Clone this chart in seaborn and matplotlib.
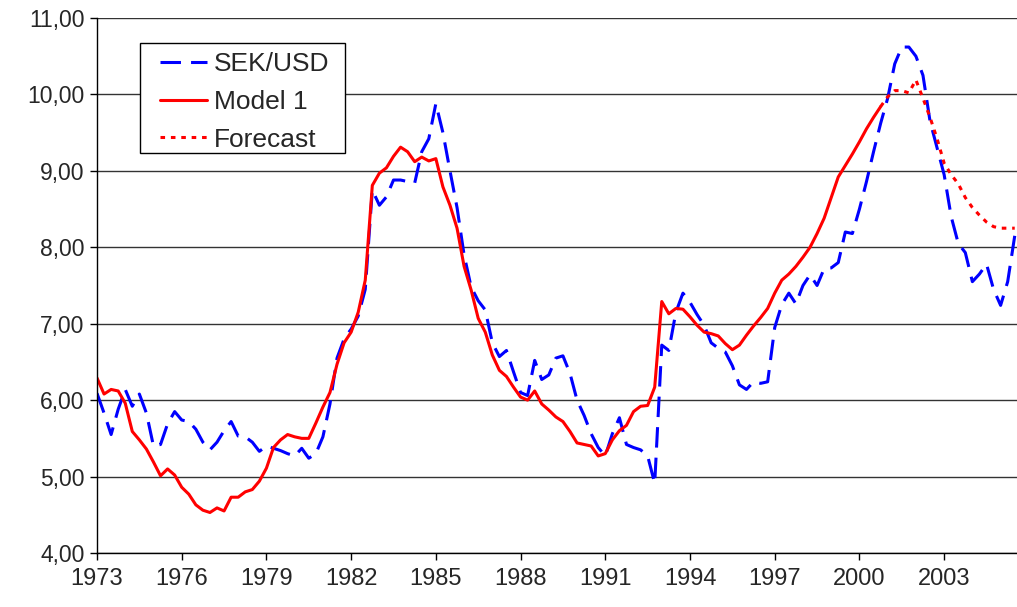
import numpy as np
import pandas as pd
import seaborn as sns
import matplotlib.pyplot as plt
from matplotlib.lines import Line2D
from matplotlib.patches import Rectangle
from matplotlib.ticker import FuncFormatter


# quarterly observations, 1973Q1 .. 2005Q3
quarters = 1973 + np.arange(131) / 4

sek_usd = [6.09, 5.83, 5.55, 5.88, 6.14, 5.92, 6.08, 5.83, 5.40, 5.42,
           5.69, 5.85, 5.74, 5.72, 5.62, 5.45, 5.35, 5.45, 5.60, 5.72,
           5.53, 5.52, 5.45, 5.33, 5.40, 5.37, 5.34, 5.30, 5.27, 5.37,
           5.24, 5.30, 5.52, 5.95, 6.55, 6.80, 6.93, 7.10, 7.45, 8.75,
           8.55, 8.66, 8.88, 8.88, 8.86, 8.84, 9.25, 9.42, 9.88, 9.50,
           9.00, 8.52, 7.90, 7.48, 7.30, 7.18, 6.75, 6.57, 6.65, 6.37,
           6.10, 6.06, 6.52, 6.27, 6.33, 6.55, 6.58, 6.35, 6.00, 5.80,
           5.56, 5.38, 5.27, 5.56, 5.77, 5.42, 5.38, 5.35, 5.27, 4.91,
           6.72, 6.65, 7.15, 7.40, 7.28, 7.12, 6.98, 6.75, 6.68, 6.63,
           6.45, 6.20, 6.14, 6.24, 6.22, 6.24, 6.95, 7.25, 7.40, 7.26,
           7.50, 7.64, 7.50, 7.72, 7.73, 7.80, 8.20, 8.18, 8.50, 8.86,
           9.25, 9.62, 9.95, 10.40, 10.62, 10.62, 10.50, 10.25, 9.65, 9.30,
           8.95, 8.40, 8.05, 7.93, 7.55, 7.65, 7.78, 7.45, 7.24, 7.55,
           8.15]

model_1 = [6.29, 6.08, 6.14, 6.12, 5.96, 5.59, 5.48, 5.36, 5.19, 5.01,
           5.10, 5.02, 4.86, 4.77, 4.63, 4.56, 4.53, 4.59, 4.55, 4.73,
           4.73, 4.80, 4.83, 4.94, 5.11, 5.38, 5.48, 5.55, 5.52, 5.50,
           5.50, 5.70, 5.91, 6.10, 6.47, 6.75, 6.89, 7.15, 7.57, 8.81,
           8.97, 9.04, 9.19, 9.31, 9.25, 9.12, 9.18, 9.13, 9.16, 8.79,
           8.55, 8.25, 7.75, 7.44, 7.07, 6.89, 6.59, 6.39, 6.31, 6.17,
           6.04, 6.00, 6.12, 5.95, 5.87, 5.78, 5.72, 5.59, 5.44, 5.42,
           5.40, 5.27, 5.30, 5.48, 5.60, 5.67, 5.85, 5.92, 5.93, 6.17,
           7.29, 7.13, 7.20, 7.19, 7.09, 6.98, 6.89, 6.87, 6.84, 6.74,
           6.66, 6.72, 6.85, 6.97, 7.08, 7.20, 7.40, 7.57, 7.65, 7.75,
           7.87, 8.00, 8.18, 8.38, 8.65, 8.92, 9.07, 9.22, 9.38, 9.55,
           9.70, 9.84]

# forecast starts at the last model quarter
forecast = [9.84, 9.97, 10.05, 10.05, 10.02, 10.19, 9.95, 9.70, 9.42, 9.10,
            8.95, 8.83, 8.65, 8.52, 8.42, 8.33, 8.27, 8.25, 8.25, 8.25]

year_ticks = list(range(1973, 2004, 3))
series_order = ['SEK/USD', 'Model 1', 'Forecast']
colors = {'SEK/USD': '#0000FF', 'Model 1': '#FF0000', 'Forecast': '#FF0000'}
dash_map = {'SEK/USD': (6.7, 3.3), 'Model 1': '', 'Forecast': (1.5, 1.9)}

n_model = len(model_1)
df = pd.concat([
    pd.DataFrame({'t': quarters, 'value': sek_usd, 'series': 'SEK/USD'}),
    pd.DataFrame({'t': quarters[:n_model], 'value': model_1, 'series': 'Model 1'}),
    pd.DataFrame({'t': quarters[n_model - 1:], 'value': forecast, 'series': 'Forecast'}),
], ignore_index=True)

sns.set_style('white')
plt.rcParams['font.family'] = ['Liberation Sans', 'DejaVu Sans']

fig = plt.figure(figsize=(10.17, 6.07), dpi=100)
ax = fig.add_axes([97 / 1017, 54 / 607, 920 / 1017, 535 / 607])

sns.lineplot(data=df, x='t', y='value', hue='series', style='series',
             hue_order=series_order, style_order=series_order,
             palette=colors, dashes=dash_map, linewidth=2.2,
             estimator=None, legend=False, ax=ax)

ax.set_xlim(1973, 2005.58)
ax.set_ylim(4, 11)
ax.set_xticks(year_ticks)
ax.set_yticks(range(4, 12))
ax.yaxis.set_major_formatter(FuncFormatter(lambda v, _: f'{v:.2f}'.replace('.', ',')))
ax.set_xlabel('')
ax.set_ylabel('')

ax.yaxis.grid(True, color='#333333', linewidth=1.0)
ax.set_axisbelow(True)
for side in ['top', 'right']:
    ax.spines[side].set_visible(False)
for side in ['left', 'bottom']:
    ax.spines[side].set_color('black')
    ax.spines[side].set_linewidth(1.0)

ax.tick_params(axis='both', which='major', direction='out', length=5,
               width=1, color='black', labelsize=16.5, pad=4, bottom=True, left=True)
ax.tick_params(axis='x', labelsize=17, pad=6)

# legend box drawn by hand so the padding can differ per side
ax.add_patch(Rectangle((0.0467, 0.7477), 0.2228, 0.2056, transform=ax.transAxes,
                       facecolor='white', edgecolor='black', linewidth=1.0, zorder=4))
handles = [Line2D([], [], color=colors['SEK/USD'], linewidth=2.2, dashes=dash_map['SEK/USD']),
           Line2D([], [], color=colors['Model 1'], linewidth=2.2),
           Line2D([], [], color=colors['Forecast'], linewidth=2.2, dashes=dash_map['Forecast'])]
leg = ax.legend(handles, series_order, loc='upper left',
                bbox_to_anchor=(0.0685, 0.936), borderaxespad=0, borderpad=0,
                fontsize=19, handlelength=1.78, handletextpad=0.25,
                labelspacing=0.52, frameon=False)
leg.set_zorder(5)

fig.savefig('out.png', dpi=100)
